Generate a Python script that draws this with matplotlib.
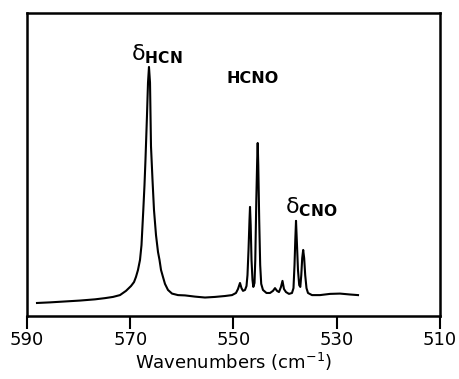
import matplotlib
matplotlib.use('Agg')
import matplotlib.pyplot as plt

# spectrum trace (wavenumber in cm-1, intensity in arb. units)
wavenumber = [588.06, 585.54, 582.64, 579.73, 576.83, 574.89, 573.34, 571.99, 570.82, 569.85,
              569.27, 568.89, 568.50, 568.11, 567.82, 567.47, 567.24, 567.05, 566.76, 566.56,
              566.37, 566.17, 565.98, 565.69, 565.40, 565.01, 564.62, 564.33, 564.04, 563.66,
              563.27, 562.69, 561.91, 560.75, 559.39, 557.46, 555.52, 553.58, 551.65, 550.29,
              549.52, 549.13, 548.74, 548.45, 548.16, 547.77, 547.48, 547.29, 547.09, 546.90,
              546.80, 546.67, 546.51, 546.32, 546.16, 545.93, 545.78, 545.58, 545.41, 545.31,
              545.20, 545.02, 544.83, 544.63, 544.29, 543.61, 542.93, 542.35, 541.96, 541.57,
              541.19, 540.80, 540.51, 540.22, 539.83, 539.25, 538.67, 538.38, 538.18, 538.03,
              537.89, 537.74, 537.51, 537.27, 537.06, 536.87, 536.69, 536.50, 536.31, 536.11,
              535.86, 535.57, 534.79, 533.24, 531.31, 529.37, 527.43, 525.88]
intensity = [4.3, 4.5, 4.8, 5.1, 5.5, 5.9, 6.3, 6.9, 8.3, 9.9,
             11.2, 12.9, 15.2, 18.5, 23.4, 35.0, 43.2, 51.5, 66.0, 77.0,
             82.2, 77.0, 56.0, 45.0, 35.0, 26.7, 21.1, 18.5, 15.2, 12.9,
             10.6, 8.6, 7.4, 6.9, 6.8, 6.4, 6.1, 6.3, 6.6, 6.9,
             7.6, 8.9, 10.9, 9.2, 8.3, 8.6, 9.9, 13.5, 21.8, 31.7,
             36.0, 30.0, 18.5, 11.9, 9.6, 10.9, 18.5, 38.3, 51.5, 57.1,
             49.8, 31.7, 16.8, 10.6, 8.6, 7.6, 7.6, 8.3, 9.2, 8.3,
             7.9, 9.6, 11.6, 8.9, 7.9, 7.3, 7.6, 9.2, 16.8, 25.1,
             31.4, 25.1, 15.2, 10.2, 9.6, 13.5, 19.1, 21.8, 19.1, 13.5,
             9.2, 7.6, 6.9, 6.9, 7.3, 7.4, 7.1, 6.9]

xticks = [590, 570, 550, 530, 510]

fig = plt.figure(figsize=(4.59, 3.79), dpi=100)
ax = fig.add_axes([0.0588, 0.1662, 0.8998, 0.7995])

ax.plot(wavenumber, intensity, color='black', lw=1.5)

ax.set_xlim(590, 510)
ax.set_ylim(0, 100)
ax.set_xticks(xticks)
ax.set_yticks([])
ax.tick_params(axis='x', direction='out', length=9, width=1.5, labelsize=13, pad=2)
for sp in ax.spines.values():
    sp.set_linewidth(1.8)
ax.set_xlabel('Wavenumbers (cm$^{-1}$)', fontsize=13, labelpad=1)

ax.text(564.8, 86.5, r'δ$_{\mathbf{HCN}}$', fontsize=16, ha='center', va='center')
ax.text(546.2, 78.5, 'HCNO', fontsize=11.5, fontweight='bold', ha='center', va='center')
ax.text(535.0, 36.0, r'δ$_{\mathbf{CNO}}$', fontsize=16, ha='center', va='center')

fig.savefig('out.png', dpi=100)
